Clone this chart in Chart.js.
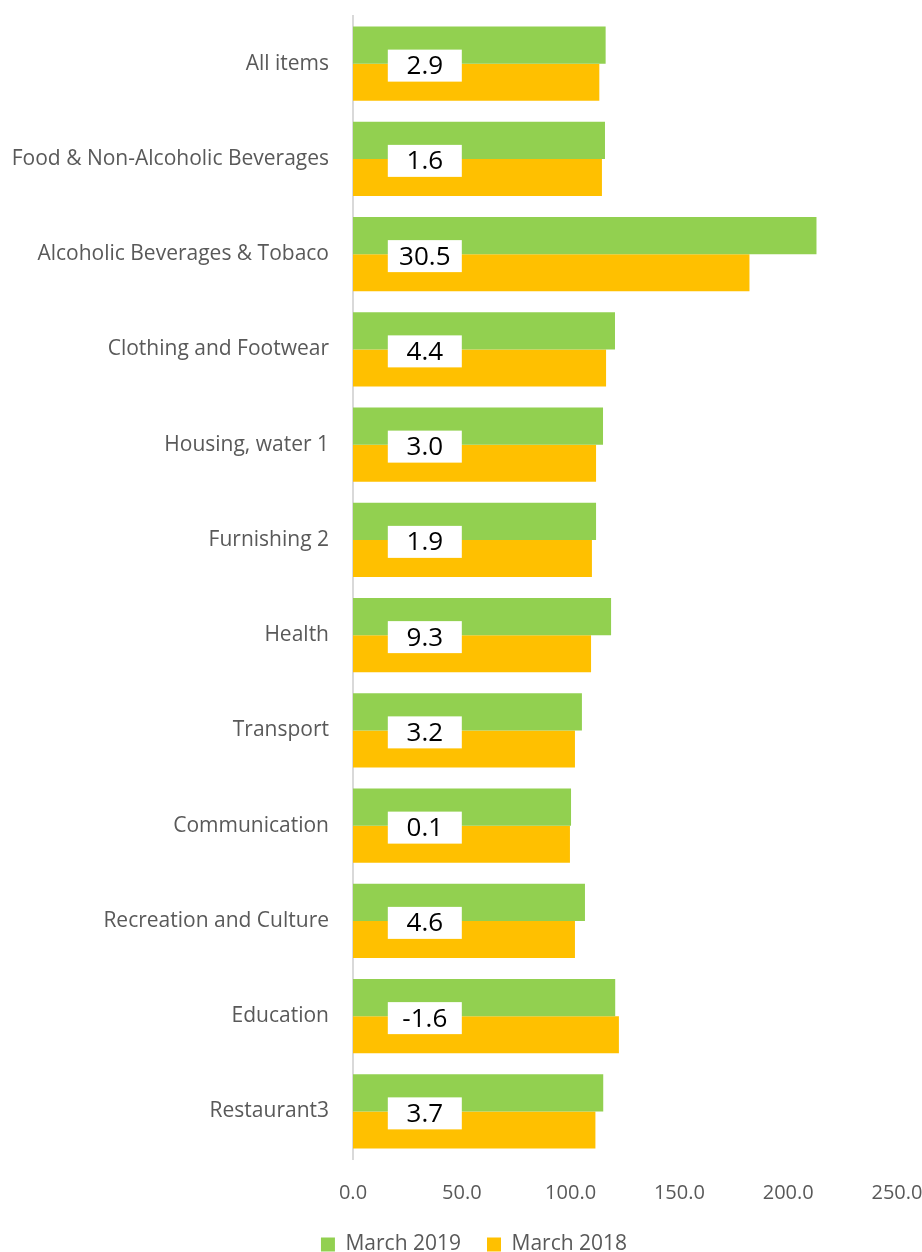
<!DOCTYPE html>
<html>
<head>
<meta charset="utf-8">
<script src="https://cdn.jsdelivr.net/npm/chart.js@4/dist/chart.umd.min.js"></script>
<style>
  html, body { margin: 0; padding: 0; background: #fff; overflow: hidden; }
  #wrap { position: relative; width: 922px; height: 1252px; }
  canvas { display: block; }
</style>
</head>
<body>
<div id="wrap"><canvas id="cpi"></canvas></div>
<script>
const categories = [
    "All items", "Food & Non-Alcoholic Beverages", "Alcoholic Beverages & Tobaco",
    "Clothing and Footwear", "Housing, water 1", "Furnishing 2", "Health",
    "Transport", "Communication", "Recreation and Culture", "Education", "Restaurant3"
];
const march2019 = [116.1, 115.8, 213.0, 120.4, 114.9, 111.7, 118.6, 105.2, 100.2, 106.6, 120.5, 115.0];
const march2018 = [113.2, 114.4, 182.2, 116.3, 111.7, 109.8, 109.4, 102.0, 99.7, 102.0, 122.2, 111.4];
const changeLabels = ["2.9", "1.6", "30.5", "4.4", "3.0", "1.9", "9.3", "3.2", "0.1", "4.6", "-1.6", "3.7"];
const xTicks = [0, 50, 100, 150, 200, 250];

const FONT = "'Open Sans', 'DejaVu Sans', sans-serif";

// white boxes with the % change, sitting across both bars
const changeBoxes = {
    id: "changeBoxes",
    afterDatasetsDraw(chart) {
        const ctx = chart.ctx;
        const x = chart.scales.x;
        const y = chart.scales.y;
        const cx = x.getPixelForValue(33);
        ctx.save();
        ctx.font = "26px " + FONT;
        ctx.textAlign = "center";
        ctx.textBaseline = "middle";
        changeLabels.forEach((t, i) => {
            const cy = y.getPixelForValue(i) + 2;
            ctx.fillStyle = "#ffffff";
            ctx.fillRect(cx - 37, cy - 16, 74, 32);
            ctx.fillStyle = "#000000";
            ctx.fillText(t, cx, cy + 1);
        });
        ctx.restore();
    }
};

// keep the wide item spacing but a short legend box, nudged right a bit
const legendTweak = {
    id: "legendTweak",
    beforeLayout(chart) {
        const lg = chart.legend;
        if (!lg || lg._fitPatched) return;
        const fit = lg.fit.bind(lg);
        lg.fit = function () { fit(); this.height = 44; };
        lg._fitPatched = true;
    },
    afterLayout(chart) {
        if (chart.legend) chart.legend.left += 26;
    }
};

new Chart(document.getElementById("cpi").getContext("2d"), {
    type: "bar",
    data: {
        labels: categories,
        datasets: [
            { label: "March 2019", data: march2019, backgroundColor: "#92D050", borderWidth: 0 },
            { label: "March 2018", data: march2018, backgroundColor: "#FFC000", borderWidth: 0 }
        ]
    },
    options: {
        indexAxis: "y",
        responsive: true,
        maintainAspectRatio: false,
        animation: false,
        categoryPercentage: 0.78,
        barPercentage: 1.0,
        layout: { padding: { top: 16, right: 0, left: 0, bottom: 0 } },
        plugins: {
            legend: {
                position: "bottom",
                labels: {
                    font: { family: FONT, size: 21 },
                    color: "#595959",
                    boxWidth: 14,
                    boxHeight: 14,
                    padding: 26
                }
            },
            tooltip: { enabled: false }
        },
        scales: {
            x: {
                min: 0,
                max: 250,
                afterBuildTicks: (s) => { s.ticks = xTicks.map(v => ({ value: v })); },
                grid: { display: false, drawTicks: false },
                border: { display: false },
                ticks: {
                    padding: 22,
                    color: "#595959",
                    font: { family: FONT, size: 20 },
                    callback: (v) => Number(v).toFixed(1)
                },
                afterFit: (s) => { s.height = 49; s.paddingLeft = 0; s.paddingRight = 25; }
            },
            y: {
                grid: { display: false, drawTicks: false },
                border: { display: true, color: "#d9d9d9", width: 2 },
                ticks: {
                    padding: 24,
                    color: "#595959",
                    font: { family: FONT, size: 21 }
                },
                afterFit: (s) => { s.width = 353; s.paddingTop = 0; s.paddingBottom = 0; }
            }
        }
    },
    plugins: [changeBoxes, legendTweak]
});
</script>
</body>
</html>
